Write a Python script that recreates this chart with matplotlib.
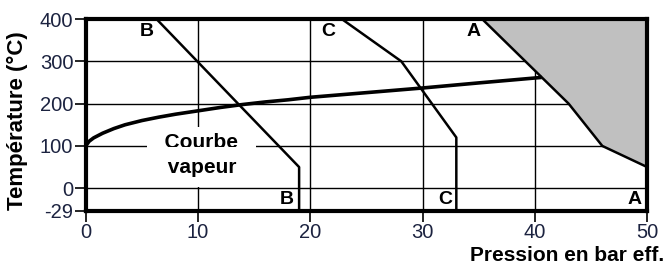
import matplotlib.pyplot as plt
import numpy as np

plt.rcParams['font.family'] = ['Liberation Sans', 'DejaVu Sans']

# courbes de pression/temperature (bar eff., degC)
b_x = [6.3, 19.0, 19.0]
b_y = [400, 50, -29]
c_x = [22.8, 28.1, 33.0, 33.0]
c_y = [400, 300, 120, -29]
a_x = [35.3, 43.0, 46.0, 50.0]
a_y = [400, 200, 100, 50]

# courbe vapeur saturee
vap_x = [0, 0.3, 0.7, 1.5, 2.5, 3.5, 5, 6.5, 8, 10, 12, 14, 16, 18, 20, 25, 30, 35, 40.6]
vap_y = [100, 111, 119, 130, 141, 150, 160, 168, 175, 183, 191, 198, 204, 209, 215, 226, 237, 249, 262]

xticks = [0, 10, 20, 30, 40, 50]
yticks = [-29, 0, 100, 200, 300, 400]

TICK_COL = '#1c2340'


def fwd(y):
    y = np.asarray(y, dtype=float)
    return np.where(y < 0, y * 53 / 29, y)


def inv(y):
    y = np.asarray(y, dtype=float)
    return np.where(y < 0, y * 29 / 53, y)


fig = plt.figure(figsize=(6.7, 2.68), dpi=100)
ax = fig.add_axes([0.128, 0.214, 0.838, 0.715])
ax.set_yscale('function', functions=(fwd, inv))
ax.set_xlim(0, 50)
ax.set_ylim(-29, 400)

# grille
for gx in xticks[1:-1]:
    ax.axvline(gx, color='black', lw=1.0, zorder=1)
for gy in yticks[1:-1]:
    ax.axhline(gy, color='black', lw=1.0, zorder=1)

# zone grisee au-dessus de A
ax.fill_between(a_x, a_y, 400, color='#c0c0c0', zorder=2, lw=0)

ax.plot(b_x, b_y, color='black', lw=1.8, zorder=3)
ax.plot(c_x, c_y, color='black', lw=1.8, zorder=3)
ax.plot(a_x, a_y, color='black', lw=1.8, zorder=3)
ax.plot(vap_x, vap_y, color='black', lw=2.6, zorder=3, solid_capstyle='butt')

# etiquette courbe vapeur (fond blanc qui coupe la grille)
ax.text(10.3, 108, '  Courbe  ', ha='center', va='center', fontsize=15,
        fontweight='bold', zorder=4,
        bbox=dict(facecolor='white', edgecolor='none',
                  boxstyle='square,pad=0.3'))
ax.text(10.4, 50, ' vapeur ', ha='center', va='center', fontsize=15,
        fontweight='bold', zorder=4,
        bbox=dict(facecolor='white', edgecolor='none',
                  boxstyle='square,pad=0.5'))

lab = dict(fontsize=14, fontweight='bold', zorder=4)
ax.text(5.4, 370, 'B', ha='center', va='center', **lab)
ax.text(17.9, -15, 'B', ha='center', va='center', **lab)
ax.text(21.6, 370, 'C', ha='center', va='center', **lab)
ax.text(32.0, -15, 'C', ha='center', va='center', **lab)
ax.text(34.5, 370, 'A', ha='center', va='center', **lab)
ax.text(48.9, -15, 'A', ha='center', va='center', **lab)

ax.set_xticks(xticks)
ax.set_yticks(yticks)
ax.set_yticklabels([str(v) for v in yticks])
ax.minorticks_off()
ax.tick_params(axis='both', length=8, width=1.2, color='black',
               labelsize=14.5, labelcolor=TICK_COL, pad=1)

for s in ax.spines.values():
    s.set_linewidth(3)
    s.set_zorder(5)

fig.text(17 / 670, 1 - 121 / 268, 'Température (°C)', rotation=90,
         ha='center', va='center', fontsize=16, fontweight='bold')
fig.text(0.991, 0.012, 'Pression en bar eff.', ha='right', va='bottom',
         fontsize=15, fontweight='bold')

fig.savefig('out.png', dpi=100)
